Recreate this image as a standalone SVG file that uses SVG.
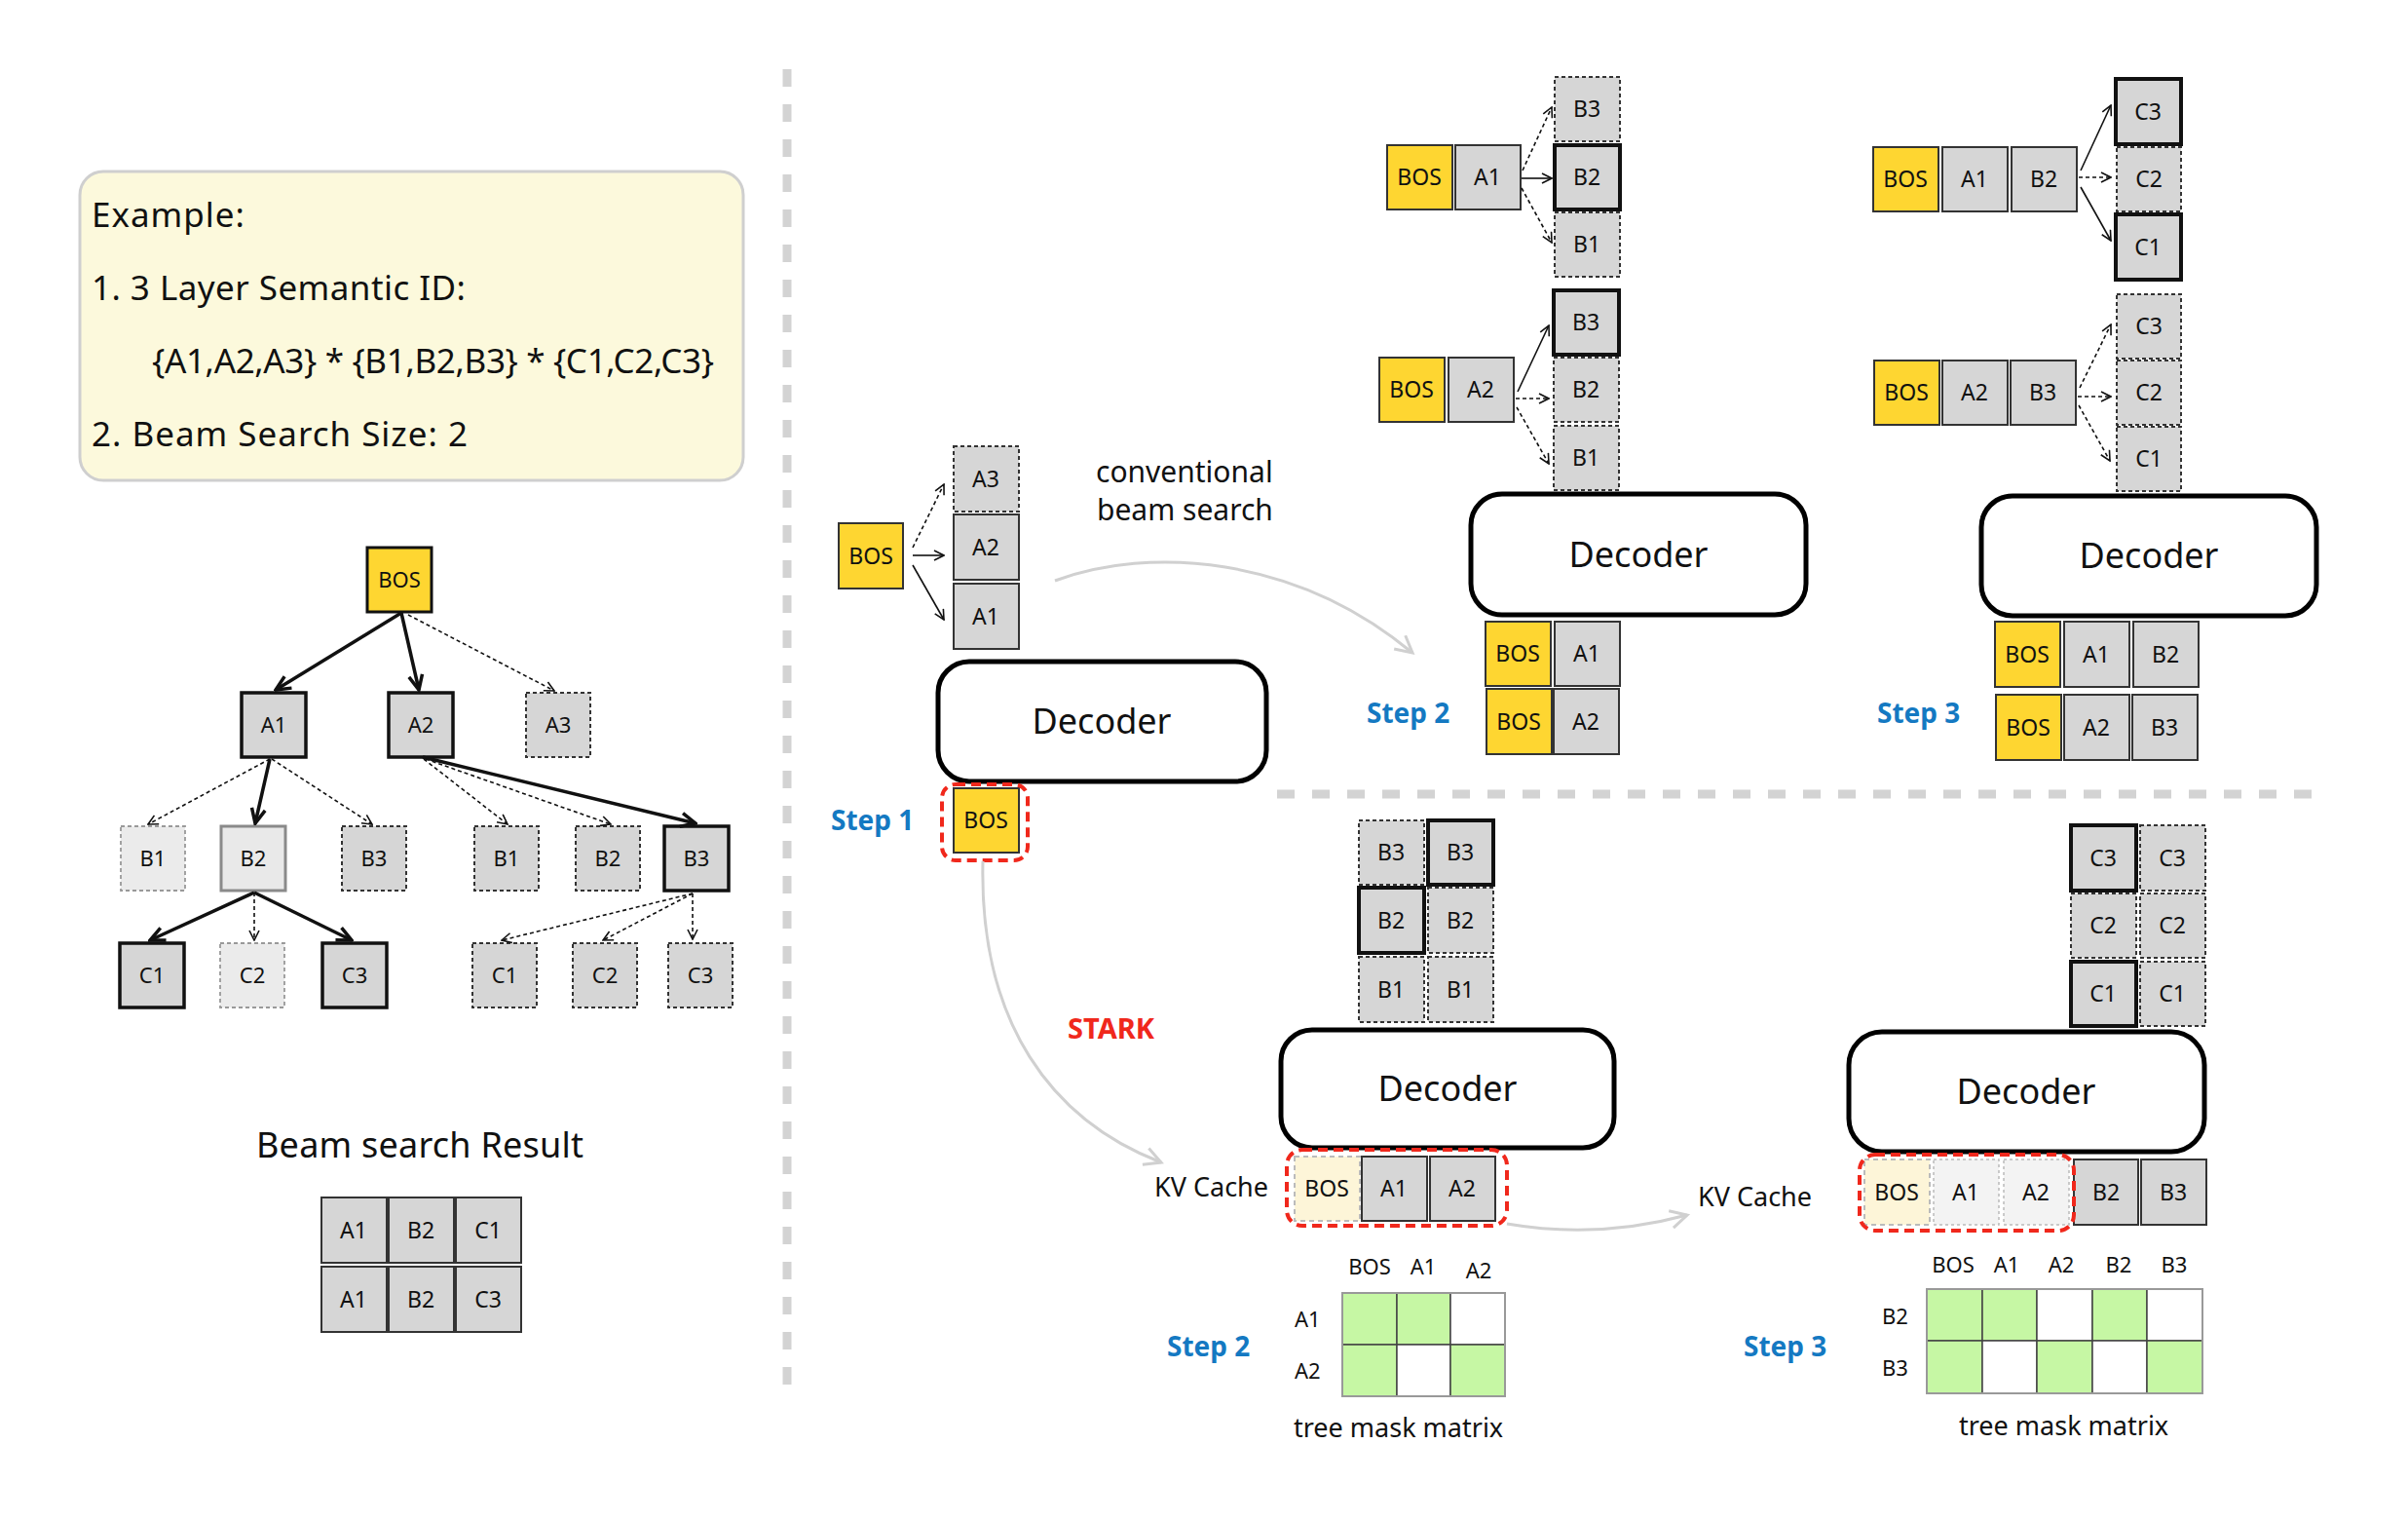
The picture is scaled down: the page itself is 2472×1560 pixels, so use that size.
<svg xmlns="http://www.w3.org/2000/svg" width="2472" height="1560" viewBox="0 0 2472 1560">
<defs>
<style>
text{font-family:"Noto Sans","Liberation Sans",sans-serif;fill:#111}
.lb{font-size:23px;text-anchor:middle}
.lt{font-size:22px;text-anchor:middle}
.tok{fill:#d6d6d6;stroke:#333;stroke-width:2}
.tokd{fill:#d6d6d6;stroke:#333;stroke-width:2;stroke-dasharray:4 3}
.tokt{fill:#d6d6d6;stroke:#111;stroke-width:4}
.bos{fill:#fed631;stroke:#333;stroke-width:2}
.fbos{fill:#fdf5d8;stroke:#bbb;stroke-width:2;stroke-dasharray:5 4}
.fgr{fill:#f3f3f3;stroke:#bbb;stroke-width:1.5;stroke-dasharray:3 3}
.lgd{fill:#ebebeb;stroke:#999;stroke-width:1.8;stroke-dasharray:4 3}
.dec{fill:#fff;stroke:#000;stroke-width:5}
.dect{font-size:36px;text-anchor:middle}
.step{font-size:28px;font-weight:700;fill:#1479c2}
.red{fill:none;stroke:#f0281c;stroke-width:4;stroke-dasharray:10 6}
.g{fill:#c6f7a4;stroke:#444;stroke-width:1.5}
.w{fill:#fff;stroke:#444;stroke-width:1.5}
.sol{fill:none;stroke:#111;stroke-width:1.6;marker-end:url(#ah)}
.dot{fill:none;stroke:#111;stroke-width:1.6;stroke-dasharray:4 3;marker-end:url(#ah)}
.thk{fill:none;stroke:#111;stroke-width:3.5;marker-end:url(#ahT)}
.gry{fill:none;stroke:#d0d0d0;stroke-width:3;marker-end:url(#ahG)}
.div{stroke:#d3d3d3;stroke-width:9;stroke-dasharray:18 18}
</style>
<marker id="ah" viewBox="0 0 12 12" refX="11" refY="6" markerWidth="12" markerHeight="12" markerUnits="userSpaceOnUse" orient="auto"><path d="M1,1 L11,6 L1,11" fill="none" stroke="#111" stroke-width="1.6"/></marker>
<marker id="ahT" viewBox="0 0 20 20" refX="18" refY="10" markerWidth="20" markerHeight="20" markerUnits="userSpaceOnUse" orient="auto"><path d="M3,3 L18,10 L3,17" fill="none" stroke="#111" stroke-width="3.5"/></marker>
<marker id="ahG" viewBox="0 0 24 24" refX="21" refY="12" markerWidth="24" markerHeight="24" markerUnits="userSpaceOnUse" orient="auto"><path d="M4,3 L21,12 L4,21" fill="none" stroke="#d0d0d0" stroke-width="3"/></marker>
</defs>
<rect width="2472" height="1560" fill="#fff"/>

<!-- dividers -->
<line class="div" x1="808" y1="71" x2="808" y2="1427"/>
<line class="div" x1="1311" y1="815" x2="2381" y2="815"/>

<!-- Example box -->
<g id="example">
<rect x="82" y="176" width="681" height="317" rx="24" fill="#fcf9dc" stroke="#cfcfcf" stroke-width="3"/>
<text x="94" y="233" font-size="35" textLength="157">Example:</text>
<text x="94" y="308" font-size="35" textLength="384">1. 3 Layer Semantic ID:</text>
<text x="156" y="383" font-size="35" textLength="577">{A1,A2,A3} * {B1,B2,B3} * {C1,C2,C3}</text>
<text x="94" y="458" font-size="35" textLength="386">2. Beam Search Size: 2</text>
</g>

<!-- Left tree -->
<g id="tree-BOS"><rect x="377" y="562" width="66" height="66" fill="#fed631" stroke="#111" stroke-width="3"/><text class="lt" x="410" y="603">BOS</text></g>
<g id="tree-A1"><rect x="248" y="711" width="66" height="66" fill="#d6d6d6" stroke="#111" stroke-width="3.5"/><text class="lt" x="281" y="752">A1</text></g>
<g id="tree-A2"><rect x="399" y="711" width="66" height="66" fill="#d6d6d6" stroke="#111" stroke-width="3.5"/><text class="lt" x="432" y="752">A2</text></g>
<g id="tree-A3"><rect x="540" y="711" width="66" height="66" class="tokd"/><text class="lt" x="573" y="752">A3</text></g>
<g id="tree-B1L"><rect x="124" y="848" width="66" height="66" class="lgd"/><text class="lt" x="157" y="889">B1</text></g>
<g id="tree-B2L"><rect x="227" y="848" width="66" height="66" fill="#e9e9e9" stroke="#8a8a8a" stroke-width="3"/><text class="lt" x="260" y="889">B2</text></g>
<g id="tree-B3L"><rect x="351" y="848" width="66" height="66" class="tokd"/><text class="lt" x="384" y="889">B3</text></g>
<g id="tree-B1R"><rect x="487" y="848" width="66" height="66" class="tokd"/><text class="lt" x="520" y="889">B1</text></g>
<g id="tree-B2R"><rect x="591" y="848" width="66" height="66" class="tokd"/><text class="lt" x="624" y="889">B2</text></g>
<g id="tree-B3R"><rect x="682" y="848" width="66" height="66" fill="#d6d6d6" stroke="#111" stroke-width="3.5"/><text class="lt" x="715" y="889">B3</text></g>
<g id="tree-C1L"><rect x="123" y="968" width="66" height="66" fill="#d6d6d6" stroke="#111" stroke-width="3.5"/><text class="lt" x="156" y="1009">C1</text></g>
<g id="tree-C2L"><rect x="226" y="968" width="66" height="66" class="lgd"/><text class="lt" x="259" y="1009">C2</text></g>
<g id="tree-C3L"><rect x="331" y="968" width="66" height="66" fill="#d6d6d6" stroke="#111" stroke-width="3.5"/><text class="lt" x="364" y="1009">C3</text></g>
<g id="tree-C1R"><rect x="485" y="968" width="66" height="66" class="tokd"/><text class="lt" x="518" y="1009">C1</text></g>
<g id="tree-C2R"><rect x="588" y="968" width="66" height="66" class="tokd"/><text class="lt" x="621" y="1009">C2</text></g>
<g id="tree-C3R"><rect x="686" y="968" width="66" height="66" class="tokd"/><text class="lt" x="719" y="1009">C3</text></g>

<!-- Beam search result -->
<g id="result">
<text x="431" y="1188" font-size="36" text-anchor="middle" textLength="336">Beam search Result</text>
<rect class="tok" x="330" y="1229" width="67" height="67"/><text class="lb" x="363" y="1271">A1</text>
<rect class="tok" x="399" y="1229" width="67" height="67"/><text class="lb" x="432" y="1271">B2</text>
<rect class="tok" x="468" y="1229" width="67" height="67"/><text class="lb" x="501" y="1271">C1</text>
<rect class="tok" x="330" y="1300" width="67" height="67"/><text class="lb" x="363" y="1342">A1</text>
<rect class="tok" x="399" y="1300" width="67" height="67"/><text class="lb" x="432" y="1342">B2</text>
<rect class="tok" x="468" y="1300" width="67" height="67"/><text class="lb" x="501" y="1342">C3</text>
</g>

<!-- Step 1 -->
<g id="s1-bos-in"><rect class="bos" x="861" y="537" width="66" height="67"/><text class="lb" x="894" y="579">BOS</text></g>
<g id="s1-A3"><rect class="tokd" x="979" y="458" width="67" height="67"/><text class="lb" x="1012" y="500">A3</text></g>
<g id="s1-A2"><rect class="tok" x="979" y="528" width="67" height="67"/><text class="lb" x="1012" y="570">A2</text></g>
<g id="s1-A1"><rect class="tok" x="979" y="599" width="67" height="67"/><text class="lb" x="1012" y="641">A1</text></g>
<g id="s1-decoder"><rect class="dec" x="963" y="679" width="337" height="123" rx="32"/><text class="dect" x="1131" y="753">Decoder</text></g>
<g id="s1-bos"><rect class="bos" x="979" y="809" width="67" height="66"/><text class="lb" x="1012" y="850">BOS</text>
<rect class="red" x="967" y="805" width="88" height="78" rx="14"/></g>
<text class="step" x="853" y="852">Step 1</text>
<text x="1125" y="495" font-size="30">conventional</text>
<text x="1126" y="534" font-size="30">beam search</text>

<!-- Step 2 (conventional) -->
<g id="s2-r1-bos"><rect class="bos" x="1424" y="149" width="67" height="66"/><text class="lb" x="1457" y="190">BOS</text></g>
<g id="s2-r1-A1"><rect class="tok" x="1494" y="149" width="67" height="66"/><text class="lb" x="1527" y="190">A1</text></g>
<g id="s2-r1-B3"><rect class="tokd" x="1596" y="79" width="67" height="66"/><text class="lb" x="1629" y="120">B3</text></g>
<g id="s2-r1-B2"><rect class="tokt" x="1596" y="149" width="67" height="66"/><text class="lb" x="1629" y="190">B2</text></g>
<g id="s2-r1-B1"><rect class="tokd" x="1596" y="218" width="67" height="66"/><text class="lb" x="1629" y="259">B1</text></g>
<g id="s2-r2-bos"><rect class="bos" x="1416" y="367" width="67" height="66"/><text class="lb" x="1449" y="408">BOS</text></g>
<g id="s2-r2-A2"><rect class="tok" x="1487" y="367" width="67" height="66"/><text class="lb" x="1520" y="408">A2</text></g>
<g id="s2-r2-B3"><rect class="tokt" x="1595" y="298" width="67" height="66"/><text class="lb" x="1628" y="339">B3</text></g>
<g id="s2-r2-B2"><rect class="tokd" x="1595" y="367" width="67" height="66"/><text class="lb" x="1628" y="408">B2</text></g>
<g id="s2-r2-B1"><rect class="tokd" x="1595" y="437" width="67" height="66"/><text class="lb" x="1628" y="478">B1</text></g>
<g id="s2-decoder"><rect class="dec" x="1510" y="507" width="344" height="124" rx="32"/><text class="dect" x="1682" y="582">Decoder</text></g>
<g id="s2-in-bos1"><rect class="bos" x="1525" y="638" width="67" height="66"/><text class="lb" x="1558" y="679">BOS</text></g>
<g id="s2-in-A1"><rect class="tok" x="1596" y="638" width="67" height="66"/><text class="lb" x="1629" y="679">A1</text></g>
<g id="s2-in-bos2"><rect class="bos" x="1526" y="707" width="67" height="67"/><text class="lb" x="1559" y="749">BOS</text></g>
<g id="s2-in-A2"><rect class="tok" x="1595" y="707" width="67" height="67"/><text class="lb" x="1628" y="749">A2</text></g>
<text class="step" x="1403" y="742">Step 2</text>

<!-- Step 3 (conventional) -->
<g id="s3-r1-bos"><rect class="bos" x="1923" y="151" width="67" height="66"/><text class="lb" x="1956" y="192">BOS</text></g>
<g id="s3-r1-A1"><rect class="tok" x="1994" y="151" width="67" height="66"/><text class="lb" x="2027" y="192">A1</text></g>
<g id="s3-r1-B2"><rect class="tok" x="2065" y="151" width="67" height="66"/><text class="lb" x="2098" y="192">B2</text></g>
<g id="s3-r1-C3"><rect class="tokt" x="2172" y="81" width="67" height="67"/><text class="lb" x="2205" y="123">C3</text></g>
<g id="s3-r1-C2"><rect class="tokd" x="2173" y="151" width="66" height="66"/><text class="lb" x="2206" y="192">C2</text></g>
<g id="s3-r1-C1"><rect class="tokt" x="2172" y="220" width="67" height="67"/><text class="lb" x="2205" y="262">C1</text></g>
<g id="s3-r2-bos"><rect class="bos" x="1924" y="370" width="67" height="66"/><text class="lb" x="1957" y="411">BOS</text></g>
<g id="s3-r2-A2"><rect class="tok" x="1994" y="370" width="67" height="66"/><text class="lb" x="2027" y="411">A2</text></g>
<g id="s3-r2-B3"><rect class="tok" x="2064" y="370" width="67" height="66"/><text class="lb" x="2097" y="411">B3</text></g>
<g id="s3-r2-C3"><rect class="tokd" x="2173" y="302" width="66" height="66"/><text class="lb" x="2206" y="343">C3</text></g>
<g id="s3-r2-C2"><rect class="tokd" x="2173" y="370" width="66" height="66"/><text class="lb" x="2206" y="411">C2</text></g>
<g id="s3-r2-C1"><rect class="tokd" x="2173" y="438" width="66" height="66"/><text class="lb" x="2206" y="479">C1</text></g>
<g id="s3-decoder"><rect class="dec" x="2034" y="509" width="344" height="123" rx="32"/><text class="dect" x="2206" y="583">Decoder</text></g>
<g id="s3-in-bos1"><rect class="bos" x="2048" y="638" width="67" height="67"/><text class="lb" x="2081" y="680">BOS</text></g>
<g id="s3-in-A1"><rect class="tok" x="2119" y="638" width="67" height="67"/><text class="lb" x="2152" y="680">A1</text></g>
<g id="s3-in-B2"><rect class="tok" x="2190" y="638" width="67" height="67"/><text class="lb" x="2223" y="680">B2</text></g>
<g id="s3-in-bos2"><rect class="bos" x="2049" y="713" width="67" height="67"/><text class="lb" x="2082" y="755">BOS</text></g>
<g id="s3-in-A2"><rect class="tok" x="2119" y="713" width="67" height="67"/><text class="lb" x="2152" y="755">A2</text></g>
<g id="s3-in-B3"><rect class="tok" x="2189" y="713" width="67" height="67"/><text class="lb" x="2222" y="755">B3</text></g>
<text class="step" x="1927" y="742">Step 3</text>

<!-- STARK -->
<text x="1096" y="1066" font-size="29" font-weight="700" style="fill:#f0281c">STARK</text>

<!-- STARK step 2 -->
<g id="k2-B3a"><rect class="tokd" x="1395" y="842" width="67" height="66"/><text class="lb" x="1428" y="883">B3</text></g>
<g id="k2-B2a"><rect class="tokt" x="1395" y="911" width="67" height="67"/><text class="lb" x="1428" y="953">B2</text></g>
<g id="k2-B1a"><rect class="tokd" x="1395" y="982" width="67" height="67"/><text class="lb" x="1428" y="1024">B1</text></g>
<g id="k2-B3b"><rect class="tokt" x="1466" y="842" width="67" height="66"/><text class="lb" x="1499" y="883">B3</text></g>
<g id="k2-B2b"><rect class="tokd" x="1466" y="911" width="67" height="67"/><text class="lb" x="1499" y="953">B2</text></g>
<g id="k2-B1b"><rect class="tokd" x="1466" y="982" width="67" height="67"/><text class="lb" x="1499" y="1024">B1</text></g>
<g id="k2-decoder"><rect class="dec" x="1315" y="1057" width="342" height="121" rx="32"/><text class="dect" x="1486" y="1130">Decoder</text></g>
<text x="1185" y="1228" font-size="27">KV Cache</text>
<g id="k2-bos"><rect class="fbos" x="1329" y="1187" width="67" height="66"/><text class="lb" x="1362" y="1228">BOS</text></g>
<g id="k2-A1"><rect class="tok" x="1398" y="1187" width="67" height="66"/><text class="lb" x="1431" y="1228">A1</text></g>
<g id="k2-A2"><rect class="tok" x="1468" y="1187" width="67" height="66"/><text class="lb" x="1501" y="1228">A2</text></g>
<rect class="red" x="1321" y="1180" width="226" height="78" rx="16"/>
<g id="k2-mask">
<text class="lt" x="1406" y="1308">BOS</text>
<text class="lt" x="1461" y="1308">A1</text>
<text class="lt" x="1518" y="1312">A2</text>
<text x="1329" y="1362" font-size="22">A1</text>
<text x="1329" y="1415" font-size="22">A2</text>
<rect class="g" x="1378" y="1327" width="56" height="53"/>
<rect class="g" x="1434" y="1327" width="55" height="53"/>
<rect class="w" x="1489" y="1327" width="56" height="53"/>
<rect class="g" x="1378" y="1380" width="56" height="53"/>
<rect class="w" x="1434" y="1380" width="55" height="53"/>
<rect class="g" x="1489" y="1380" width="56" height="53"/>
<rect x="1378" y="1327" width="167" height="106" fill="none" stroke="#999" stroke-width="2"/>
<text x="1328" y="1475" font-size="27">tree mask matrix</text>
</g>
<text class="step" x="1198" y="1392">Step 2</text>

<!-- STARK step 3 -->
<g id="k3-C3a"><rect class="tokt" x="2126" y="847" width="67" height="67"/><text class="lb" x="2159" y="889">C3</text></g>
<g id="k3-C2a"><rect class="tokd" x="2126" y="917" width="67" height="66"/><text class="lb" x="2159" y="958">C2</text></g>
<g id="k3-C1a"><rect class="tokt" x="2126" y="987" width="67" height="66"/><text class="lb" x="2159" y="1028">C1</text></g>
<g id="k3-C3b"><rect class="tokd" x="2197" y="847" width="67" height="67"/><text class="lb" x="2230" y="889">C3</text></g>
<g id="k3-C2b"><rect class="tokd" x="2197" y="917" width="67" height="66"/><text class="lb" x="2230" y="958">C2</text></g>
<g id="k3-C1b"><rect class="tokd" x="2197" y="987" width="67" height="66"/><text class="lb" x="2230" y="1028">C1</text></g>
<g id="k3-decoder"><rect class="dec" x="1898" y="1059" width="365" height="123" rx="34"/><text class="dect" x="2080" y="1133">Decoder</text></g>
<text x="1743" y="1238" font-size="27">KV Cache</text>
<g id="k3-bos"><rect class="fbos" x="1914" y="1190" width="67" height="67"/><text class="lb" x="1947" y="1232">BOS</text></g>
<g id="k3-A1"><rect class="fgr" x="1985" y="1190" width="67" height="67"/><text class="lb" x="2018" y="1232">A1</text></g>
<g id="k3-A2"><rect class="fgr" x="2057" y="1190" width="67" height="67"/><text class="lb" x="2090" y="1232">A2</text></g>
<g id="k3-B2"><rect class="tok" x="2129" y="1190" width="66" height="67"/><text class="lb" x="2162" y="1232">B2</text></g>
<g id="k3-B3"><rect class="tok" x="2198" y="1190" width="67" height="67"/><text class="lb" x="2231" y="1232">B3</text></g>
<rect class="red" x="1909" y="1185" width="220" height="78" rx="16"/>
<g id="k3-mask">
<text class="lt" x="2005" y="1306">BOS</text>
<text class="lt" x="2060" y="1306">A1</text>
<text class="lt" x="2116" y="1306">A2</text>
<text class="lt" x="2175" y="1306">B2</text>
<text class="lt" x="2232" y="1306">B3</text>
<text x="1932" y="1359" font-size="22">B2</text>
<text x="1932" y="1412" font-size="22">B3</text>
<rect class="g" x="1978" y="1323" width="57" height="53"/>
<rect class="g" x="2035" y="1323" width="56" height="53"/>
<rect class="w" x="2091" y="1323" width="57" height="53"/>
<rect class="g" x="2148" y="1323" width="56" height="53"/>
<rect class="w" x="2204" y="1323" width="57" height="53"/>
<rect class="g" x="1978" y="1376" width="57" height="54"/>
<rect class="w" x="2035" y="1376" width="56" height="54"/>
<rect class="g" x="2091" y="1376" width="57" height="54"/>
<rect class="w" x="2148" y="1376" width="56" height="54"/>
<rect class="g" x="2204" y="1376" width="57" height="54"/>
<rect x="1978" y="1323" width="283" height="107" fill="none" stroke="#999" stroke-width="2"/>
<text x="2011" y="1473" font-size="27">tree mask matrix</text>
</g>
<text class="step" x="1790" y="1392">Step 3</text>

<!-- connectors -->
<g id="connectors">
<path class="thk" d="M412,629 L283,708"/>
<path class="thk" d="M412,629 L430,708"/>
<path class="dot" d="M419,631 L569,709"/>
<path class="dot" d="M277,779 L152,846"/>
<path class="thk" d="M277,779 L262,845"/>
<path class="dot" d="M279,779 L382,846"/>
<path class="dot" d="M435,779 L521,846"/>
<path class="dot" d="M437,779 L627,846"/>
<path class="thk" d="M434,777 L714,845"/>
<path class="thk" d="M261,916 L154,965"/>
<path class="dot" d="M261,916 L261,965"/>
<path class="thk" d="M261,916 L361,965"/>
<path class="dot" d="M711,917 L515,965"/>
<path class="dot" d="M711,917 L619,965"/>
<path class="dot" d="M711,917 L711,964"/>

<path class="dot" d="M937,562 L969,497"/>
<path class="sol" d="M937,570 L969,570"/>
<path class="sol" d="M937,580 L969,636"/>

<path class="dot" d="M1563,175 L1593,110"/>
<path class="sol" d="M1562,183 L1593,183"/>
<path class="dot" d="M1562,193 L1593,249"/>
<path class="sol" d="M1558,402 L1590,334"/>
<path class="dot" d="M1556,409 L1590,409"/>
<path class="dot" d="M1557,418 L1590,476"/>

<path class="sol" d="M2136,175 L2167,108"/>
<path class="dot" d="M2134,182 L2167,182"/>
<path class="sol" d="M2136,192 L2167,247"/>
<path class="dot" d="M2135,398 L2167,333"/>
<path class="dot" d="M2133,407 L2167,407"/>
<path class="dot" d="M2134,416 L2166,473"/>

<path class="gry" d="M1083,596 C1180,560 1330,570 1450,670"/>
<path class="gry" d="M1009,884 C1005,1050 1080,1150 1192,1193"/>
<path class="gry" d="M1547,1256 Q1640,1272 1732,1247"/>
</g>
</svg>
